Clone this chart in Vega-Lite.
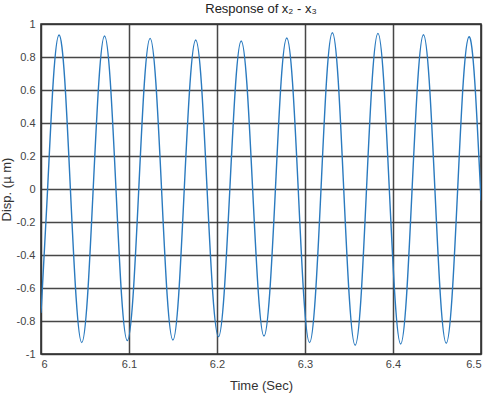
{
  "$schema": "https://vega.github.io/schema/vega-lite/v6.json",
  "width": 440,
  "height": 330,
  "autosize": {"type": "none"},
  "padding": {"left": 41, "top": 24, "right": 5, "bottom": 42},
  "background": "white",
  "title": {"text": "Response of x₂ - x₃", "fontSize": 13, "fontWeight": "normal", "font": "Liberation Sans", "color": "#222", "offset": 2},
  "config": {
    "view": {"stroke": "#222", "strokeWidth": 1.5},
    "axis": {"labelFont": "Liberation Sans", "titleFont": "Liberation Sans", "labelFontSize": 11, "titleFontSize": 13, "labelColor": "#444", "titleColor": "#333", "titleFontWeight": "normal", "ticks": false, "domain": false, "gridColor": "#333", "gridWidth": 1.5, "gridOpacity": 0.9}
  },
  "data": {"values": [
    {"t": 6.0, "y": -0.72}, {"t": 6.0010, "y": -0.658}, {"t": 6.0075, "y": 0}, {"t": 6.0140, "y": 0.66},
    {"t": 6.0205, "y": 0.933}, {"t": 6.0270, "y": 0.660}, {"t": 6.0334, "y": 0}, {"t": 6.0399, "y": -0.658},
    {"t": 6.0463, "y": -0.931}, {"t": 6.0528, "y": -0.658}, {"t": 6.0593, "y": 0}, {"t": 6.0658, "y": 0.655},
    {"t": 6.0722, "y": 0.927}, {"t": 6.0787, "y": 0.655}, {"t": 6.0852, "y": 0}, {"t": 6.0916, "y": -0.650},
    {"t": 6.0981, "y": -0.919}, {"t": 6.1046, "y": -0.650}, {"t": 6.1111, "y": 0}, {"t": 6.1175, "y": 0.646},
    {"t": 6.1240, "y": 0.913}, {"t": 6.1305, "y": 0.646}, {"t": 6.1370, "y": 0}, {"t": 6.1434, "y": -0.647},
    {"t": 6.1499, "y": -0.915}, {"t": 6.1564, "y": -0.647}, {"t": 6.1628, "y": 0}, {"t": 6.1693, "y": 0.638},
    {"t": 6.1758, "y": 0.903}, {"t": 6.1823, "y": 0.638}, {"t": 6.1887, "y": 0}, {"t": 6.1952, "y": -0.633},
    {"t": 6.2017, "y": -0.895}, {"t": 6.2081, "y": -0.633}, {"t": 6.2146, "y": 0}, {"t": 6.2211, "y": 0.634},
    {"t": 6.2275, "y": 0.897}, {"t": 6.2340, "y": 0.634}, {"t": 6.2405, "y": 0}, {"t": 6.2470, "y": -0.630},
    {"t": 6.2534, "y": -0.891}, {"t": 6.2599, "y": -0.630}, {"t": 6.2664, "y": 0}, {"t": 6.2728, "y": 0.647},
    {"t": 6.2793, "y": 0.915}, {"t": 6.2858, "y": 0.647}, {"t": 6.2923, "y": 0}, {"t": 6.2987, "y": -0.658},
    {"t": 6.3052, "y": -0.931}, {"t": 6.3117, "y": -0.658}, {"t": 6.3182, "y": 0}, {"t": 6.3246, "y": 0.670},
    {"t": 6.3311, "y": 0.947}, {"t": 6.3376, "y": 0.670}, {"t": 6.3440, "y": 0}, {"t": 6.3505, "y": -0.670},
    {"t": 6.3570, "y": -0.947}, {"t": 6.3635, "y": -0.670}, {"t": 6.3699, "y": 0}, {"t": 6.3764, "y": 0.667},
    {"t": 6.3829, "y": 0.943}, {"t": 6.3893, "y": 0.667}, {"t": 6.3958, "y": 0}, {"t": 6.4023, "y": -0.664},
    {"t": 6.4087, "y": -0.939}, {"t": 6.4152, "y": -0.664}, {"t": 6.4217, "y": 0}, {"t": 6.4282, "y": 0.661},
    {"t": 6.4346, "y": 0.935}, {"t": 6.4411, "y": 0.661}, {"t": 6.4476, "y": 0}, {"t": 6.4540, "y": -0.661},
    {"t": 6.4605, "y": -0.935}, {"t": 6.4670, "y": -0.661}, {"t": 6.4735, "y": 0}, {"t": 6.4799, "y": 0.653},
    {"t": 6.4864, "y": 0.923}, {"t": 6.4929, "y": 0.653}, {"t": 6.5, "y": -0.07}
  ]},
  "mark": {"type": "line", "interpolate": "natural", "color": "#2a7abf", "strokeWidth": 1.4, "clip": true},
  "encoding": {
    "x": {"field": "t", "type": "quantitative", "title": "Time (Sec)",
      "scale": {"domain": [6, 6.5], "nice": false, "zero": false},
      "axis": {"values": [6, 6.1, 6.2, 6.3, 6.4, 6.5], "labelExpr": "'' + datum.value", "labelPadding": 4, "titlePadding": 10}},
    "y": {"field": "y", "type": "quantitative", "title": "Disp. (µ m)",
      "scale": {"domain": [-1, 1], "nice": false},
      "axis": {"values": [-1, -0.8, -0.6, -0.4, -0.2, 0, 0.2, 0.4, 0.6, 0.8, 1], "labelExpr": "'' + datum.value", "labelPadding": 6, "titlePadding": 3}}
  }
}
